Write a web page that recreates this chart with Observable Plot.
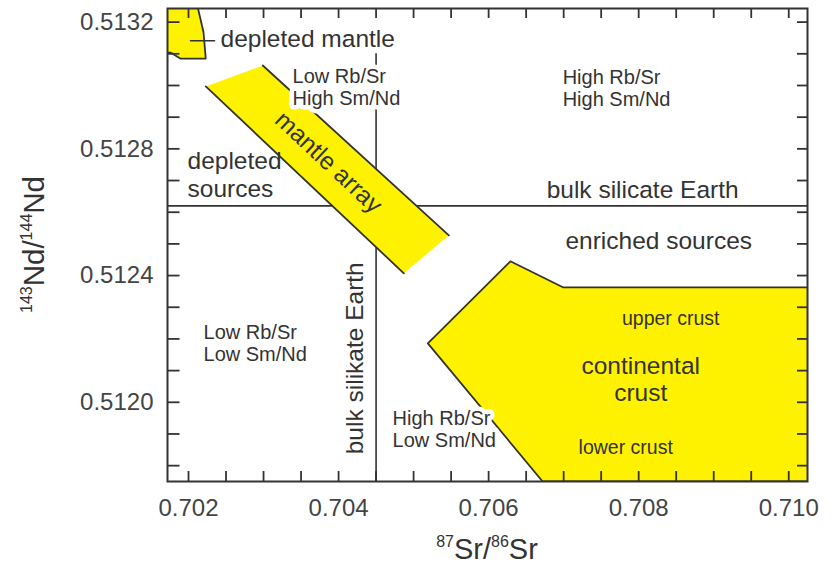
<!DOCTYPE html>
<html><head><meta charset="utf-8">
<script src="https://cdn.jsdelivr.net/npm/d3@7"></script>
<script src="https://cdn.jsdelivr.net/npm/@observablehq/plot@0.6"></script>
<style>body{margin:0;background:#fff;} #chart svg{display:block;}</style>
</head><body><div id="chart"></div>
<script>
// ---- data (isotope ratios) ----
const xDomain = [0.70172, 0.71025];
const yDomain = [0.51175, 0.513243];
const xTickLabels = [0.702, 0.704, 0.706, 0.708, 0.710];
const yTickLabels = [0.5120, 0.5124, 0.5128, 0.5132];
const xMinorTicks = [0.702, 0.7025, 0.703, 0.7035, 0.704, 0.7045, 0.705, 0.7055, 0.706, 0.7065, 0.707, 0.7075, 0.708, 0.7085, 0.709, 0.7095, 0.710];
const yMinorTicks = [0.5118, 0.5119, 0.5120, 0.5121, 0.5122, 0.5123, 0.5124, 0.5125, 0.5126, 0.5127, 0.5128, 0.5129, 0.5130, 0.5131, 0.5132];
const leftTickEnd = 0.70188;

const bseSr = 0.7045;       // bulk silicate Earth 87Sr/86Sr
const bseNd = 0.51262;      // bulk silicate Earth 143Nd/144Nd
const bseSrLineTop = 0.51310;

const depletedMantleX = [0.70165, 0.70211, 0.70220, 0.70223, 0.70189, 0.70176, 0.70165];
const depletedMantleY = [0.51326, 0.51326, 0.513168, 0.513085, 0.513085, 0.513104, 0.513104];

const mantleArrayX = [0.70223, 0.70299, 0.70547, 0.70487];
const mantleArrayY = [0.512997, 0.513063, 0.512527, 0.512407];

const crustX = [0.70519, 0.70629, 0.70699, 0.71030, 0.71030, 0.70672];
const crustY = [0.512186, 0.512445, 0.512363, 0.512363, 0.51175, 0.51175];

const leaderX = [0.702027, 0.702347];
const leaderY = [0.513141, 0.513141];

// large labels, left-aligned
const bigLeftText = ["depleted mantle", "depleted\nsources"];
const bigLeftX = [0.702427, 0.701987];
const bigLeftY = [0.513149, 0.512720];
// large labels, centred
const bigMidText = ["bulk silicate Earth", "enriched sources", "continental\ncrust"];
const bigMidX = [0.708053, 0.708267, 0.708027];
const bigMidY = [0.512672, 0.512511, 0.512075];

// ratio labels (with white box)
const ratioText = ["Low Rb/Sr\nHigh Sm/Nd", "High Rb/Sr\nHigh Sm/Nd", "Low Rb/Sr\nLow Sm/Nd", "High Rb/Sr\nLow Sm/Nd"];
const ratioX = [0.703387, 0.706987, 0.702200, 0.704720];
const ratioY = [0.512994, 0.512992, 0.512188, 0.511917];

// crust sub-labels
const crustText = ["upper crust", "lower crust"];
const crustLabX = [0.708427, 0.707827];
const crustLabY = [0.512265, 0.511858];

const mantleArrayLabel = {text: "mantle array", x: 0.703867, y: 0.512757};
const bseVertLabel = {text: "bulk silikate Earth", x: 0.704227, y: 0.512139};

// ---- build ----
const pts = (xs, ys) => xs.map((x, i) => ({x, y: ys[i]}));
const zipLab = (t, xs, ys) => t.map((s, i) => ({text: s, x: xs[i], y: ys[i]}));

const ink = "#333";
const yellow = "#fff200";
const font = "Liberation Sans, Arial, Helvetica, sans-serif";
const ma = pts(mantleArrayX, mantleArrayY);

const W = 835, H = 569, mL = 167, mT = 8, mR = 28, mB = 88;
const innerH = H - mT - mB;
const tickLen = 10;
const big = 24.5;

const plot = Plot.plot({
  width: W, height: H,
  marginLeft: mL, marginTop: mT, marginRight: mR, marginBottom: mB,
  x: {domain: xDomain},
  y: {domain: yDomain},
  style: {fontFamily: font, background: "#fff", color: ink},
  marks: [
    Plot.ruleY([bseNd], {stroke: ink, strokeWidth: 1.6}),
    Plot.ruleX([bseSr], {y1: yDomain[0], y2: bseSrLineTop, stroke: ink, strokeWidth: 1.6}),
    Plot.line(pts(depletedMantleX, depletedMantleY), {x: "x", y: "y", curve: "linear-closed", fill: yellow, stroke: ink, strokeWidth: 1.8, clip: true}),
    Plot.line(ma, {x: "x", y: "y", curve: "linear-closed", fill: yellow, stroke: "none"}),
    Plot.line([ma[0], ma[3]], {x: "x", y: "y", stroke: ink, strokeWidth: 1.8}),
    Plot.line([ma[1], ma[2]], {x: "x", y: "y", stroke: ink, strokeWidth: 1.8}),
    Plot.line(pts(crustX, crustY), {x: "x", y: "y", curve: "linear-closed", fill: yellow, stroke: ink, strokeWidth: 1.8, clip: true}),
    Plot.line(pts(leaderX, leaderY), {x: "x", y: "y", stroke: ink, strokeWidth: 1.6}),
    Plot.text(zipLab(ratioText, ratioX, ratioY), {x: "x", y: "y", text: "text", textAnchor: "start", fontSize: 20, lineHeight: 1.1, fill: ink, stroke: "white", strokeWidth: 9, strokeLinejoin: "round"}),
    Plot.text(zipLab(bigLeftText, bigLeftX, bigLeftY), {x: "x", y: "y", text: "text", textAnchor: "start", fontSize: big, lineHeight: 1.15, fill: ink}),
    Plot.text(zipLab(bigMidText, bigMidX, bigMidY), {x: "x", y: "y", text: "text", textAnchor: "middle", fontSize: big, lineHeight: 1.1, fill: ink}),
    Plot.text(zipLab(crustText, crustLabX, crustLabY), {x: "x", y: "y", text: "text", textAnchor: "middle", fontSize: 19.5, fill: ink}),
    Plot.text([mantleArrayLabel], {x: "x", y: "y", text: "text", rotate: 43, fontSize: big, fill: ink}),
    Plot.text([bseVertLabel], {x: "x", y: "y", text: "text", rotate: -90, fontSize: big, fill: ink}),
    Plot.frame({stroke: ink, strokeWidth: 2}),
    // inward minor ticks on all four sides
    Plot.ruleX(xMinorTicks, {y1: yDomain[0], y2: yDomain[0], insetTop: -tickLen, stroke: ink, strokeWidth: 1.8}),
    Plot.ruleX(xMinorTicks, {insetBottom: innerH - tickLen, stroke: ink, strokeWidth: 1.8}),
    Plot.link(yMinorTicks, {y1: d => d, y2: d => d, x1: xDomain[0], x2: leftTickEnd, stroke: ink, strokeWidth: 1.8}),
    Plot.ruleY(yMinorTicks, {x1: xDomain[1], x2: xDomain[1], insetLeft: -tickLen, stroke: ink, strokeWidth: 1.8}),
    Plot.axisX(xTickLabels, {anchor: "bottom", tickSize: 0, tickPadding: 17, tickFormat: d3.format(".3f"), fontSize: 24, fill: "#444", label: null}),
    Plot.axisY(yTickLabels, {anchor: "left", tickSize: 0, tickPadding: 14, tickFormat: d3.format(".4f"), fontSize: 24, fill: "#444", label: null})
  ]
});

const svg = d3.select(plot);
function titled(sel, parts, bigSize, small) {
  parts.forEach(([t, sup], i) => {
    const ts = sel.append("tspan").text(t).attr("font-size", sup ? small : bigSize);
    if (sup) ts.attr("dy", -bigSize * 0.42);
    else if (i > 0 && parts[i - 1][1]) ts.attr("dy", bigSize * 0.42);
  });
}
const xt = svg.append("text")
  .attr("x", mL + (W - mL - mR) / 2).attr("y", H - 10)
  .attr("text-anchor", "middle").attr("fill", ink).attr("font-family", font);
titled(xt, [["87", true], ["Sr/", false], ["86", true], ["Sr", false]], 29, 16);
const yt = svg.append("text")
  .attr("transform", `translate(44,${mT + (H - mT - mB) / 2}) rotate(-90)`)
  .attr("text-anchor", "middle").attr("fill", ink).attr("font-family", font);
titled(yt, [["143", true], ["Nd/", false], ["144", true], ["Nd", false]], 29.5, 16);

document.getElementById("chart").appendChild(plot);
</script>
</body></html>
